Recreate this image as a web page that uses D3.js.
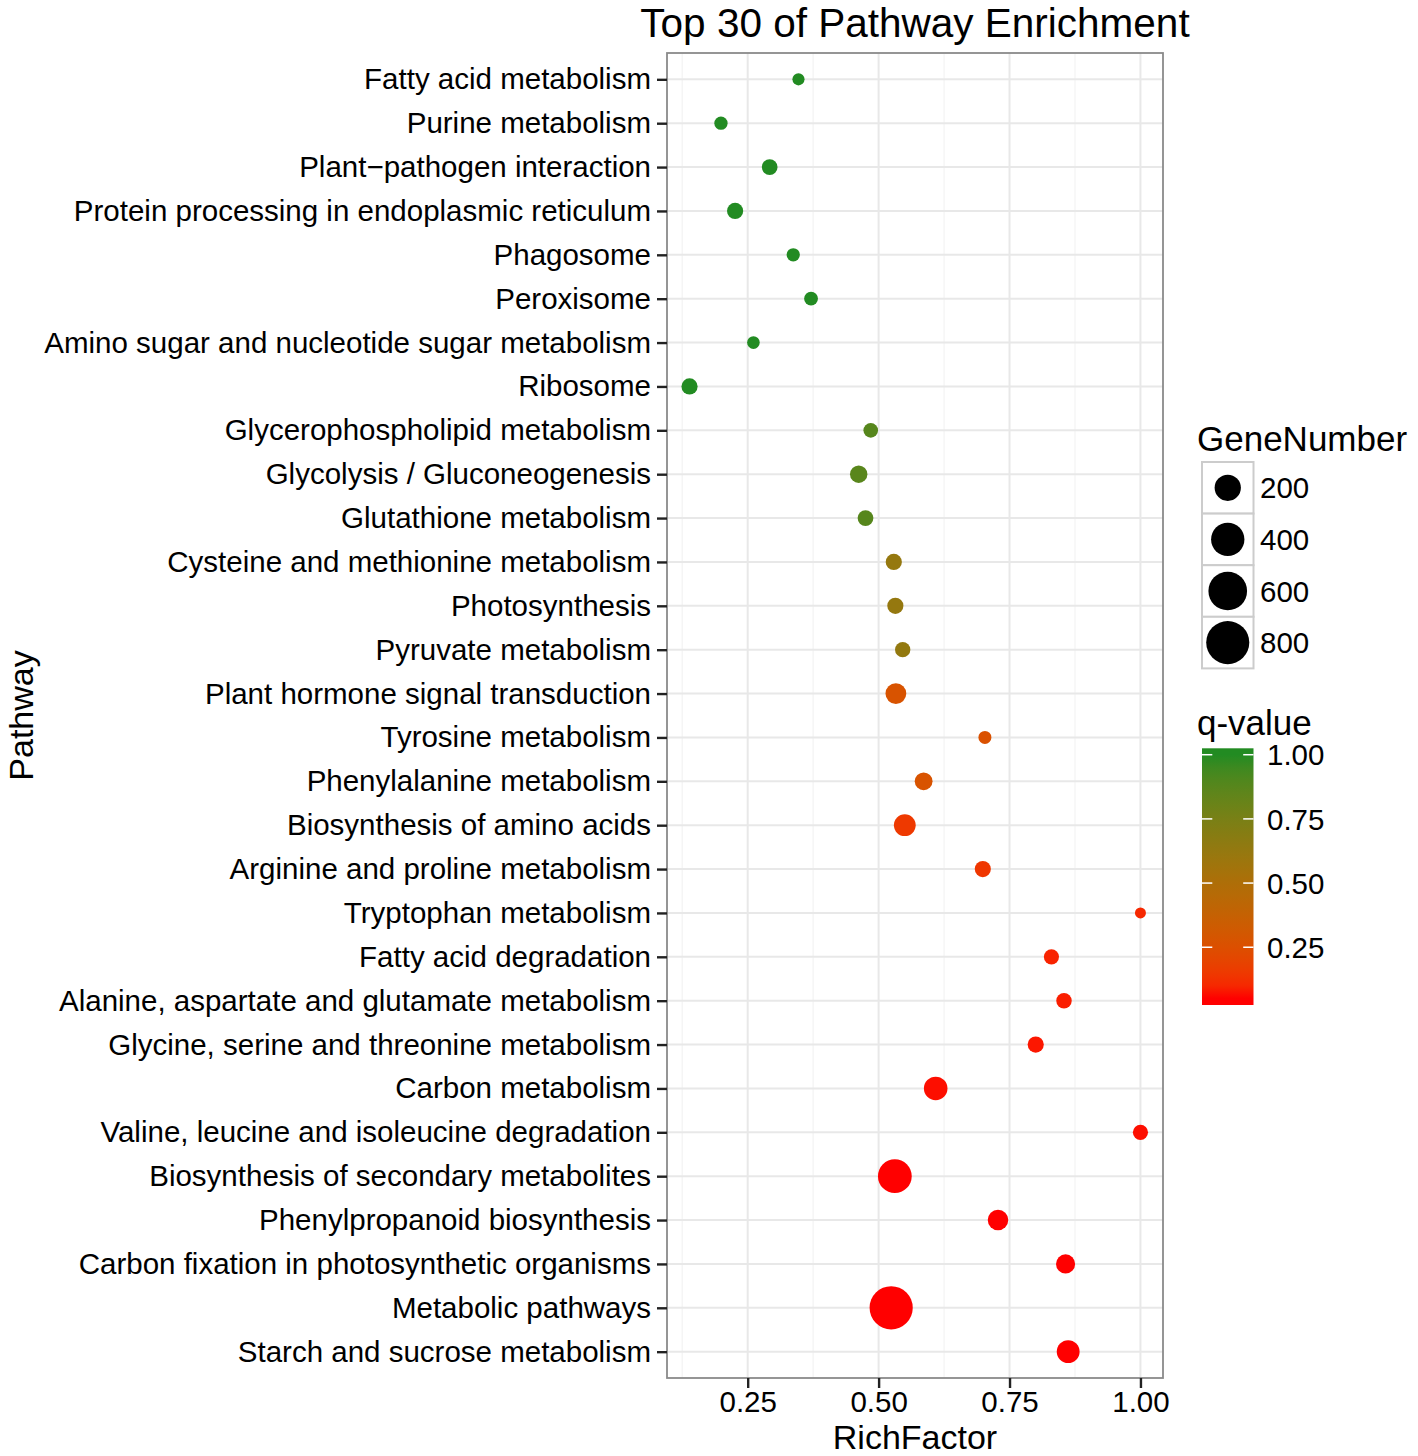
<!DOCTYPE html>
<html><head><meta charset="utf-8">
<script src="https://cdn.jsdelivr.net/npm/d3@7"></script>
<style>
body{margin:0;background:#fff}
text{font-family:"Liberation Sans",Arial,Helvetica,sans-serif;fill:#000}
</style>
</head><body>
<svg id="chart" width="1418" height="1456"></svg>
<script>
const categories = [
  "Fatty acid metabolism","Purine metabolism","Plant\u2212pathogen interaction",
  "Protein processing in endoplasmic reticulum","Phagosome","Peroxisome",
  "Amino sugar and nucleotide sugar metabolism","Ribosome","Glycerophospholipid metabolism",
  "Glycolysis / Gluconeogenesis","Glutathione metabolism","Cysteine and methionine metabolism",
  "Photosynthesis","Pyruvate metabolism","Plant hormone signal transduction",
  "Tyrosine metabolism","Phenylalanine metabolism","Biosynthesis of amino acids",
  "Arginine and proline metabolism","Tryptophan metabolism","Fatty acid degradation",
  "Alanine, aspartate and glutamate metabolism","Glycine, serine and threonine metabolism",
  "Carbon metabolism","Valine, leucine and isoleucine degradation",
  "Biosynthesis of secondary metabolites","Phenylpropanoid biosynthesis",
  "Carbon fixation in photosynthetic organisms","Metabolic pathways","Starch and sucrose metabolism"
];
const richFactor = [0.347,0.199,0.292,0.226,0.337,0.371,0.261,0.139,0.485,0.462,
                    0.475,0.529,0.532,0.546,0.533,0.703,0.586,0.550,0.699,1.000,
                    0.830,0.854,0.800,0.609,1.000,0.531,0.728,0.857,0.524,0.862];
const geneNumber = [25,28,41,44,28,30,26,44,34,55,
                    41,44,44,38,96,27,59,112,44,24,
                    37,39,44,143,37,415,92,74,806,130];
const qValue = [1.00,1.00,1.00,1.00,1.00,1.00,1.00,1.00,0.88,0.87,
                0.88,0.62,0.62,0.63,0.27,0.26,0.27,0.15,0.14,0.10,
                0.09,0.08,0.07,0.06,0.06,0.05,0.05,0.05,0.05,0.05];
const xTicks = [0.25,0.50,0.75,1.00];
const sizeBreaks = [200,400,600,800];
const colorBreaks = [0.25,0.50,0.75,1.00];

const W = 1418, H = 1456;
const panel = {left:667, right:1163, top:53, bottom:1378};
const svg = d3.select("#chart");
svg.append("rect").attr("width",W).attr("height",H).attr("fill","#fff");

const [xmin,xmax] = d3.extent(richFactor);
const xpad = (xmax-xmin)*0.05;
const x = d3.scaleLinear().domain([xmin-xpad, xmax+xpad]).range([panel.left, panel.right]);
const y = d3.scalePoint().domain(categories).range([panel.top, panel.bottom]).padding(0.6);

const [qmin,qmax] = d3.extent(qValue);
const color = d3.scaleLinear().domain([qmin,qmax]).range(["#FF0000","#228B22"]).interpolate(d3.interpolateLab);
const [gmin,gmax] = d3.extent(geneNumber);
const rs = d3.scaleSqrt().domain([0, gmax-gmin]).range([5.5, 21.6]);
const radius = v => rs(Math.max(0, v-gmin));

// grid
const g = svg.append("g");
const minor = [xTicks[0]-0.125, ...xTicks.map(t=>t+0.125)].filter(v=>v>x.domain()[0] && v<x.domain()[1]);
g.selectAll(".minor").data(minor).join("line")
  .attr("x1",d=>x(d)).attr("x2",d=>x(d)).attr("y1",panel.top).attr("y2",panel.bottom)
  .attr("stroke","#f3f3f3").attr("stroke-width",1.2);
g.selectAll(".majx").data(xTicks).join("line")
  .attr("x1",d=>x(d)).attr("x2",d=>x(d)).attr("y1",panel.top).attr("y2",panel.bottom)
  .attr("stroke","#e8e8e8").attr("stroke-width",2);
g.selectAll(".majy").data(categories).join("line")
  .attr("x1",panel.left).attr("x2",panel.right).attr("y1",d=>y(d)).attr("y2",d=>y(d))
  .attr("stroke","#e8e8e8").attr("stroke-width",2);

// points
svg.append("g").selectAll("circle").data(categories).join("circle")
  .attr("cx",(d,i)=>x(richFactor[i])).attr("cy",d=>y(d))
  .attr("r",(d,i)=>radius(geneNumber[i]))
  .attr("fill",(d,i)=>color(qValue[i]));

// panel border
svg.append("rect").attr("x",panel.left).attr("y",panel.top)
  .attr("width",panel.right-panel.left).attr("height",panel.bottom-panel.top)
  .attr("fill","none").attr("stroke","#8a8a8a").attr("stroke-width",1.8);

// axes
const yAxis = svg.append("g").attr("transform",`translate(${panel.left},0)`)
  .call(d3.axisLeft(y).tickSize(10).tickPadding(6));
const xAxis = svg.append("g").attr("transform",`translate(0,${panel.bottom})`)
  .call(d3.axisBottom(x).tickValues(xTicks).tickFormat(d3.format(".2f")).tickSize(10).tickPadding(3));
[yAxis,xAxis].forEach(a=>{
  a.select(".domain").remove();
  a.selectAll(".tick line").attr("stroke","#222").attr("stroke-width",2.4);
  a.selectAll(".tick text").attr("font-size",29.5).attr("fill","#000")
    .attr("font-family","'Liberation Sans',Arial,Helvetica,sans-serif");
});

// titles
svg.append("text").attr("x",(panel.left+panel.right)/2).attr("y",37)
  .attr("text-anchor","middle").attr("font-size",40.5).text("Top 30 of Pathway Enrichment");
svg.append("text").attr("x",(panel.left+panel.right)/2).attr("y",1449)
  .attr("text-anchor","middle").attr("font-size",34).text("RichFactor");
svg.append("text").attr("transform",`translate(33,${(panel.top+panel.bottom)/2}) rotate(-90)`)
  .attr("text-anchor","middle").attr("font-size",34).text("Pathway");

// size legend
const lx = 1197;
svg.append("text").attr("x",lx).attr("y",451).attr("font-size",35).text("GeneNumber");
const keyTop = 462, keyH = 51.6, keyX = 1202, keyW = 51.5;
const sl = svg.append("g");
sizeBreaks.forEach((b,i)=>{
  const cy = keyTop + keyH*i + keyH/2;
  sl.append("rect").attr("x",keyX).attr("y",keyTop+keyH*i).attr("width",keyW).attr("height",keyH)
    .attr("fill","#fff").attr("stroke","#cccccc").attr("stroke-width",2);
  sl.append("circle").attr("cx",keyX+keyW/2).attr("cy",cy).attr("r",radius(b)).attr("fill","#000");
  sl.append("text").attr("x",1260).attr("y",cy).attr("dy","0.36em").attr("font-size",29.5).text(b);
});

// color legend
svg.append("text").attr("x",lx).attr("y",735).attr("font-size",35).text("q-value");
const barTop = 748.3, barH = 256.7, barX = 1202, barW = 51.5, nbin = 20;
const defs = svg.append("defs");
const grad = defs.append("linearGradient").attr("id","qgrad")
  .attr("x1",0).attr("y1",1).attr("x2",0).attr("y2",0);
grad.append("stop").attr("offset",0).attr("stop-color",color(qmin));
d3.range(nbin).forEach(i=>{
  grad.append("stop").attr("offset",(i+0.5)/nbin)
    .attr("stop-color",color(qmin + i*(qmax-qmin)/(nbin-1)));
});
grad.append("stop").attr("offset",1).attr("stop-color",color(qmax));
svg.append("rect").attr("x",barX).attr("y",barTop).attr("width",barW).attr("height",barH)
  .attr("fill","url(#qgrad)");
const qy = d3.scaleLinear().domain([qmin,qmax])
  .range([barTop+barH - barH/(2*nbin), barTop + barH/(2*nbin)]);
const cl = svg.append("g");
colorBreaks.forEach(b=>{
  const yy = qy(b);
  cl.append("line").attr("x1",barX).attr("x2",barX+barW/5).attr("y1",yy).attr("y2",yy)
    .attr("stroke","#fff").attr("stroke-width",1.5);
  cl.append("line").attr("x1",barX+barW-barW/5).attr("x2",barX+barW).attr("y1",yy).attr("y2",yy)
    .attr("stroke","#fff").attr("stroke-width",1.5);
  cl.append("text").attr("x",1267).attr("y",yy).attr("dy","0.36em").attr("font-size",29.5)
    .text(d3.format(".2f")(b));
});
</script>
</body></html>
